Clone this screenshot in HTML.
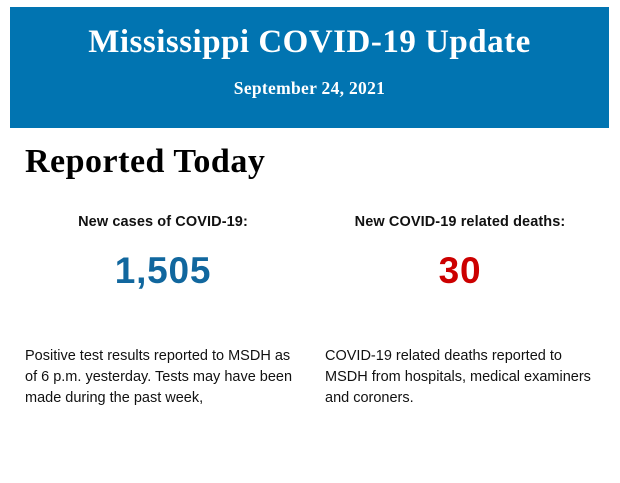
<!DOCTYPE html>
<html><head><meta charset="utf-8"><style>
body{margin:0;width:620px;height:483px;background:#fff;position:relative;overflow:hidden;font-family:"Liberation Sans",sans-serif}
.banner{position:absolute;left:10px;top:7px;width:599px;height:121px;background:#0174b1;color:#fff;font-family:"Liberation Serif",serif;text-align:center}
.t{position:absolute;left:0;right:0;top:17px;font-size:33px;font-weight:bold;letter-spacing:0.5px}
.d{position:absolute;left:0;right:0;top:71px;font-size:17.5px;font-weight:bold;letter-spacing:0.3px}
.h{position:absolute;left:25px;top:143px;font-family:"Liberation Serif",serif;font-size:34px;font-weight:bold;color:#000;letter-spacing:0.5px}
.lab{position:absolute;top:214px;font-size:14.5px;font-weight:bold;text-align:center;width:300px;color:#111;letter-spacing:0.1px}
.num{position:absolute;top:250px;font-size:37px;font-weight:bold;text-align:center;width:300px;letter-spacing:0.8px}
.p{position:absolute;top:346px;font-size:14.5px;line-height:21px;color:#111}
</style></head><body>
<div class="banner"><div class="t">Mississippi COVID-19 Update</div><div class="d">September 24, 2021</div></div>
<div class="h">Reported Today</div>
<div class="lab" style="left:13px">New cases of COVID-19:</div>
<div class="lab" style="left:310px">New COVID-19 related deaths:</div>
<div class="num" style="left:13px;color:#11679e">1,505</div>
<div class="num" style="left:310px;color:#cc0000">30</div>
<div class="p" style="left:25px;width:280px">Positive test results reported to MSDH as of 6 p.m. yesterday. Tests may have been made during the past week,</div>
<div class="p" style="left:325px;width:280px">COVID-19 related deaths reported to MSDH from hospitals, medical examiners and coroners.</div>
</body></html>
